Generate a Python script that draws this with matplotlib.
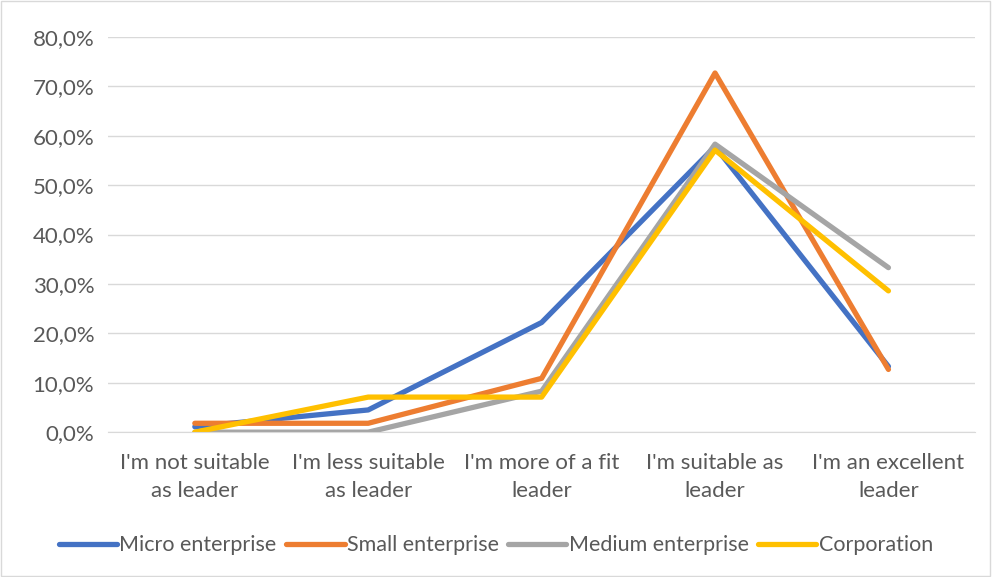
import matplotlib.pyplot as plt
from matplotlib.ticker import FuncFormatter
import numpy as np

plt.rcParams['font.family'] = ['Lato', 'DejaVu Sans']

# data (percent)
categories = ["I'm not suitable\nas leader", "I'm less suitable\nas leader",
              "I'm more of a fit\nleader", "I'm suitable as\nleader",
              "I'm an excellent\nleader"]
micro = [1.1, 4.5, 22.2, 57.8, 13.3]
small = [1.8, 1.8, 10.9, 72.7, 12.7]
medium = [0.0, 0.0, 8.3, 58.3, 33.3]
corporation = [0.0, 7.1, 7.1, 57.1, 28.6]

series = [micro, small, medium, corporation]
labels = ["Micro enterprise", "Small enterprise", "Medium enterprise", "Corporation"]
colours = ["#4472C4", "#ED7D31", "#A5A5A5", "#FFC000"]

fig = plt.figure(figsize=(9.92, 5.77), dpi=100)
ax = fig.add_axes([0.109, 0.251, 0.874, 0.685])

x = np.arange(len(categories))
for vals, lab, col in zip(series, labels, colours):
    ax.plot(x, vals, color=col, linewidth=3.8, label=lab,
            solid_capstyle='round', solid_joinstyle='round')

ax.set_xlim(-0.5, len(categories) - 0.5)
ax.set_ylim(0, 80)
ax.set_yticks(np.arange(0, 81, 10))
ax.yaxis.set_major_formatter(FuncFormatter(lambda v, p: "{:.1f}%".format(v).replace('.', ',')))
ax.set_xticks(x)
ax.set_xticklabels(categories, linespacing=1.5)
ax.grid(axis='y', color='#D9D9D9', linewidth=1)
ax.set_axisbelow(True)
for s in ['top', 'right', 'left']:
    ax.spines[s].set_visible(False)
ax.spines['bottom'].set_color('#D9D9D9')
ax.tick_params(length=0, labelsize=16, colors='#595959', pad=10)
ax.tick_params(axis='x', pad=15)

fig.legend(loc='center', bbox_to_anchor=(0.5, 0.055), ncol=4, frameon=False,
           fontsize=15.5, labelcolor='#595959', handlelength=2.7,
           handletextpad=0.1, columnspacing=0.45)

# light border around the figure
fig.patches.append(plt.Rectangle((0.001, 0.001), 0.997, 0.997, transform=fig.transFigure,
                                 fill=False, edgecolor='#D9D9D9', linewidth=1))

fig.savefig('out.png', dpi=100)
